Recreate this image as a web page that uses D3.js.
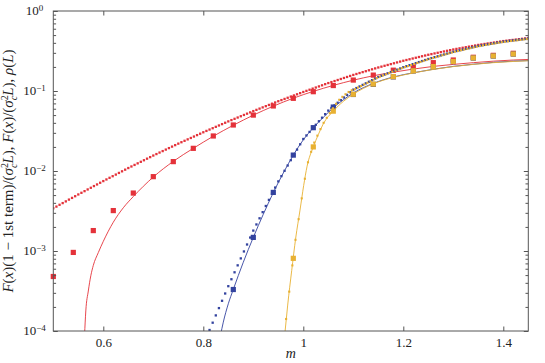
<!DOCTYPE html>
<html lang="en">
<head>
<meta charset="UTF-8">
<title>F(x) against m</title>
<script src="https://d3js.org/d3.v7.min.js"></script>
<style>
  body { margin: 0; background: #fff; }
  svg text { fill: #222; }
</style>
</head>
<body>
<svg id="chart" width="545" height="363"></svg>
<script>
// dotted series: one value every 0.00625 in m
const dotStep = 0.00625;

const redDotStart = 0.5;
const redDots = [
  3.42e-3, 3.59e-3, 3.78e-3, 3.97e-3, 4.17e-3, 4.39e-3, 4.61e-3, 4.84e-3, 5.09e-3,
  5.34e-3, 5.60e-3, 5.88e-3, 6.17e-3, 6.48e-3, 6.79e-3, 7.13e-3, 7.48e-3,
  7.84e-3, 8.22e-3, 8.61e-3, 9.02e-3, 9.46e-3, 9.91e-3, 1.039e-2, 1.089e-2,
  1.139e-2, 1.191e-2, 1.246e-2, 1.303e-2, 1.363e-2, 1.426e-2, 1.491e-2, 1.560e-2,
  1.628e-2, 1.700e-2, 1.774e-2, 1.852e-2, 1.933e-2, 2.018e-2, 2.106e-2, 2.198e-2,
  2.290e-2, 2.385e-2, 2.485e-2, 2.588e-2, 2.696e-2, 2.809e-2, 2.926e-2, 3.048e-2,
  3.170e-2, 3.296e-2, 3.428e-2, 3.565e-2, 3.707e-2, 3.855e-2, 4.009e-2, 4.169e-2,
  4.327e-2, 4.490e-2, 4.660e-2, 4.836e-2, 5.019e-2, 5.208e-2, 5.405e-2, 5.610e-2,
  5.812e-2, 6.021e-2, 6.238e-2, 6.462e-2, 6.695e-2, 6.936e-2, 7.186e-2, 7.447e-2,
  7.699e-2, 7.960e-2, 8.230e-2, 8.509e-2, 8.798e-2, 9.096e-2, 9.404e-2, 9.727e-2,
  0.1004, 0.1037, 0.1071, 0.1105, 0.1141, 0.1178, 0.1217, 0.1256,
  0.1293, 0.1332, 0.1372, 0.1413, 0.1455, 0.1498, 0.1543, 0.1589,
  0.1632, 0.1676, 0.1722, 0.1768, 0.1816, 0.1866, 0.1916, 0.1968,
  0.2016, 0.2066, 0.2116, 0.2168, 0.2221, 0.2276, 0.2331, 0.2388,
  0.2440, 0.2493, 0.2548, 0.2603, 0.2660, 0.2718, 0.2777, 0.2838,
  0.2892, 0.2948, 0.3004, 0.3062, 0.3121, 0.3181, 0.3242, 0.3304,
  0.3359, 0.3414, 0.3470, 0.3528, 0.3586, 0.3645, 0.3705, 0.3767,
  0.3819, 0.3872, 0.3926, 0.3981, 0.4036, 0.4092, 0.4149, 0.4207,
  0.4253, 0.4300, 0.4347, 0.4395, 0.4444, 0.4493, 0.4542, 0.4592
];

const blueDotStart = 0.8125;
const blueDots = [
  1.029e-4, 1.270e-4, 1.567e-4, 1.933e-4, 2.385e-4, 2.943e-4, 3.631e-4,
  4.436e-4, 5.417e-4, 6.616e-4, 8.082e-4, 9.871e-4, 1.206e-3, 1.473e-3, 1.799e-3,
  2.147e-3, 2.563e-3, 3.059e-3, 3.652e-3, 4.359e-3, 5.202e-3, 6.210e-3, 7.413e-3,
  8.634e-3, 1.006e-2, 1.171e-2, 1.365e-2, 1.590e-2, 1.851e-2, 2.157e-2, 2.512e-2,
  2.782e-2, 3.081e-2, 3.413e-2, 3.780e-2, 4.187e-2, 4.637e-2, 5.136e-2, 5.689e-2,
  6.134e-2, 6.614e-2, 7.133e-2, 7.691e-2, 8.293e-2, 8.942e-2, 9.644e-2, 0.1040,
  0.1088, 0.1139, 0.1192, 0.1247, 0.1305, 0.1366, 0.1430, 0.1496,
  0.1550, 0.1605, 0.1662, 0.1722, 0.1783, 0.1847, 0.1913, 0.1982,
  0.2041, 0.2102, 0.2166, 0.2231, 0.2298, 0.2367, 0.2438, 0.2512,
  0.2578, 0.2645, 0.2715, 0.2786, 0.2859, 0.2934, 0.3011, 0.3090,
  0.3156, 0.3223, 0.3291, 0.3361, 0.3432, 0.3505, 0.3579, 0.3656,
  0.3713, 0.3771, 0.3830, 0.3890, 0.3951, 0.4013, 0.4075, 0.4140,
  0.4185, 0.4231, 0.4277, 0.4325, 0.4372, 0.4420, 0.4469, 0.4519
];

const yellowDotStart = 0.965625;
const yellowDots = [
  1.413e-4, 3.105e-4, 6.607e-4, 1.380e-3, 2.500e-3, 4.550e-3, 8.000e-3, 1.285e-2,
  1.738e-2, 2.265e-2, 2.767e-2, 3.342e-2, 4.000e-2, 4.624e-2, 5.297e-2, 6.081e-2,
  6.918e-2, 7.762e-2, 8.453e-2, 9.099e-2, 9.727e-2, 0.1023,
  0.1054, 0.1104, 0.1153, 0.1208, 0.1265, 0.1324, 0.1384, 0.1449,
  0.1510, 0.1563, 0.1618, 0.1675, 0.1738, 0.1799, 0.1862, 0.1928,
  0.1991, 0.2051, 0.2113, 0.2178, 0.2244, 0.2312, 0.2382, 0.2455,
  0.2523, 0.2588, 0.2655, 0.2723, 0.2799, 0.2871, 0.2944, 0.3020,
  0.3097, 0.3162, 0.3228, 0.3296, 0.3365, 0.3436, 0.3508, 0.3581,
  0.3648, 0.3707, 0.3767, 0.3828, 0.3882, 0.3945, 0.4009, 0.4074,
  0.4121, 0.4169, 0.4217, 0.4266, 0.4305, 0.4355, 0.4406, 0.4457
];

// big square markers
const redSquareM = [0.50, 0.54, 0.58, 0.62, 0.66, 0.70, 0.74, 0.78, 0.82, 0.86, 0.90, 0.94,
                    0.98, 1.02, 1.06, 1.10, 1.14, 1.18, 1.22, 1.26, 1.30, 1.34, 1.38, 1.42];
const redSquares = [4.8e-4, 9.6e-4, 1.8e-3, 3.2e-3, 5.3e-3, 8.5e-3, 1.31e-2, 1.92e-2, 2.74e-2, 3.76e-2, 5.0e-2, 6.5e-2,
                    8.1e-2, 9.8e-2, 0.117, 0.137, 0.158, 0.182, 0.201, 0.226, 0.244, 0.264, 0.279, 0.296];
const blueSquareM = [0.86, 0.90, 0.94, 0.98, 1.02, 1.06, 1.10, 1.14, 1.18, 1.22, 1.26, 1.30, 1.34, 1.38, 1.42];
const blueSquares = [3.3e-4, 1.48e-3, 5.4e-3, 1.58e-2, 3.48e-2, 6.3e-2, 0.0905, 0.121, 0.150, 0.178, 0.201, 0.233, 0.258, 0.273, 0.289];
const yellowSquareM = [0.98, 1.02, 1.06, 1.10, 1.14, 1.18, 1.22, 1.26, 1.30, 1.34, 1.38, 1.42];
const yellowSquares = [8.1e-4, 2.0e-2, 5.6e-2, 9.1e-2, 0.122, 0.151, 0.179, 0.202, 0.234, 0.259, 0.274, 0.290];

// continuous curves
const redLineM = [0.5625, 0.565, 0.57, 0.575, 0.58, 0.59, 0.60, 0.62, 0.64, 0.66, 0.70, 0.74, 0.78, 0.82, 0.86,
                  0.90, 0.94, 0.98, 1.02, 1.06, 1.10, 1.14, 1.18, 1.22, 1.26, 1.30, 1.34, 1.38, 1.42, 1.45];
const redLine = [8.91e-5, 1.78e-4, 3.16e-4, 4.90e-4, 6.61e-4, 9.55e-4, 1.32e-3, 2.29e-3, 3.47e-3, 4.79e-3, 8.41e-3,
                 1.32e-2, 1.92e-2, 2.72e-2, 3.73e-2, 4.99e-2, 6.46e-2, 8.13e-2, 9.89e-2, 0.1175, 0.1365, 0.155,
                 0.172, 0.188, 0.203, 0.215, 0.226, 0.236, 0.244, 0.248];
const blueLineM = [0.8345, 0.84, 0.85, 0.86, 0.88, 0.90, 0.92, 0.94, 0.96, 0.98, 1.00, 1.02, 1.04, 1.06, 1.08,
                   1.10, 1.14, 1.18, 1.22, 1.26, 1.30, 1.34, 1.38, 1.42, 1.45];
const blueLine = [8.91e-5, 1.29e-4, 2.19e-4, 3.31e-4, 7.24e-4, 1.48e-3, 2.88e-3, 5.37e-3, 9.44e-3, 1.58e-2, 2.45e-2,
                  3.47e-2, 4.68e-2, 6.17e-2, 7.76e-2, 9.44e-2, 0.1245, 0.1496, 0.169, 0.187, 0.203, 0.216, 0.228, 0.236, 0.240];
const yellowLineM = [0.9628, 0.966, 0.9688, 0.9768, 0.9848, 0.9934, 1.0008, 1.0076, 1.02, 1.03, 1.04, 1.06, 1.08,
                     1.10, 1.14, 1.18, 1.22, 1.26, 1.30, 1.34, 1.38, 1.42, 1.45];
const yellowLine = [8.91e-5, 1.41e-4, 2.11e-4, 5.68e-4, 1.45e-3, 3.24e-3, 6.61e-3, 1.15e-2, 2.00e-2, 2.85e-2, 3.89e-2,
                    5.62e-2, 7.41e-2, 9.12e-2, 0.123, 0.148, 0.168, 0.186, 0.202, 0.215, 0.226, 0.234, 0.239];

const xTicks = [0.6, 0.8, 1, 1.2, 1.4];
const yDecades = [1e-4, 1e-3, 1e-2, 1e-1, 1];
const yDecadeLabels = ["−4", "−3", "−2", "−1", "0"];

const colors = { red: "#e4323a", blue: "#33439f", yellow: "#e8b132" };
const serif = "Liberation Serif";

const svg = d3.select("#chart");
const plotLeft = 53.3, plotRight = 528.3, plotTop = 11, plotBottom = 331;

const x = d3.scaleLinear().domain([0.5, 1.45]).range([plotLeft, plotRight]);
const y = d3.scaleLog().domain([1e-4, 1]).range([plotBottom, plotTop]);

svg.append("defs").append("clipPath").attr("id", "plot")
  .append("rect").attr("x", plotLeft).attr("y", plotTop)
  .attr("width", plotRight - plotLeft).attr("height", plotBottom - plotTop);

const pairs = (ms, vs) => ms.map((m, i) => [m, vs[i]]);
const dotPairs = (start, vs) => vs.map((v, i) => [start + i * dotStep, v]);

const line = d3.line().x(d => x(d[0])).y(d => y(d[1])).curve(d3.curveMonotoneX);

function drawSeries(color, lineData, squares, dots, dotSize) {
  const g = svg.append("g");
  g.append("path")
    .datum(lineData)
    .attr("clip-path", "url(#plot)")
    .attr("fill", "none")
    .attr("stroke", color)
    .attr("stroke-width", 0.9)
    .attr("d", line);

  g.append("g").selectAll("rect")
    .data(squares)
    .enter().append("rect")
    .attr("x", d => x(d[0]) - 2.6)
    .attr("y", d => y(d[1]) - 2.6)
    .attr("width", 5.2)
    .attr("height", 5.2)
    .attr("fill", color);

  g.append("g").attr("clip-path", "url(#plot)").selectAll("rect")
    .data(dots)
    .enter().append("rect")
    .attr("x", d => x(d[0]) - dotSize / 2)
    .attr("y", d => y(d[1]) - dotSize / 2)
    .attr("width", dotSize)
    .attr("height", dotSize)
    .attr("fill", color);
}

drawSeries(colors.red, pairs(redLineM, redLine), pairs(redSquareM, redSquares), dotPairs(redDotStart, redDots), 2.3);
drawSeries(colors.blue, pairs(blueLineM, blueLine), pairs(blueSquareM, blueSquares), dotPairs(blueDotStart, blueDots), 2.3);
drawSeries(colors.yellow, pairs(yellowLineM, yellowLine), pairs(yellowSquareM, yellowSquares), dotPairs(yellowDotStart, yellowDots), 2.1);

// frame and ticks
const axisColor = "#555";
const minorTicks = [];
yDecades.slice(0, -1).forEach(d => { for (let k = 2; k <= 9; k++) minorTicks.push(d * k); });

function styleAxis(g) {
  g.select(".domain").remove();
  g.selectAll(".tick line").attr("stroke", axisColor);
}

svg.append("g").attr("transform", `translate(0,${plotBottom})`)
  .call(d3.axisBottom(x).tickValues(xTicks).tickSize(-4.5).tickPadding(7).tickFormat(d3.format("")))
  .call(styleAxis)
  .call(g => g.attr("font-family", serif).attr("font-size", 13))
  .call(g => g.selectAll("text").attr("fill", "#222"));
svg.append("g").attr("transform", `translate(0,${plotTop})`)
  .call(d3.axisTop(x).tickValues(xTicks).tickSize(-4.5).tickFormat(""))
  .call(styleAxis);

[[d3.axisLeft, plotLeft], [d3.axisRight, plotRight]].forEach(([axisFn, pos]) => {
  svg.append("g").attr("transform", `translate(${pos},0)`)
    .call(axisFn(y).tickValues(yDecades).tickSize(-4.5).tickFormat(""))
    .call(styleAxis);
  svg.append("g").attr("transform", `translate(${pos},0)`)
    .call(axisFn(y).tickValues(minorTicks).tickSize(-2.8).tickFormat(""))
    .call(styleAxis);
});

svg.append("rect")
  .attr("x", plotLeft).attr("y", plotTop)
  .attr("width", plotRight - plotLeft).attr("height", plotBottom - plotTop)
  .attr("fill", "none").attr("stroke", axisColor).attr("stroke-width", 1);

// y tick labels 10^k
yDecades.forEach((d, i) => {
  const t = svg.append("text")
    .attr("x", 34.5).attr("y", y(d) + 4.3)
    .attr("text-anchor", "middle")
    .attr("font-family", serif)
    .attr("font-size", 13);
  t.append("tspan").text("10");
  t.append("tspan").attr("dy", -4.8).attr("font-size", 9).text(yDecadeLabels[i]);
});

// axis titles
svg.append("text")
  .attr("x", (plotLeft + plotRight) / 2).attr("y", 358)
  .attr("text-anchor", "middle")
  .attr("font-family", serif)
  .attr("font-size", 14).attr("font-style", "italic")
  .text("m");

const yTitle = svg.append("text")
  .attr("transform", `translate(13,${(plotTop + plotBottom) / 2}) rotate(-90)`)
  .attr("text-anchor", "middle")
  .attr("font-family", serif)
  .attr("font-size", 15);

function addPart(txt, italic) {
  yTitle.append("tspan").attr("font-style", italic ? "italic" : "normal").text(txt);
}
function addSigma() {
  addPart("σ", true);
  yTitle.append("tspan").attr("dy", -5).attr("font-size", 10).text("2");
  yTitle.append("tspan").attr("dx", -5).attr("dy", 8.5).attr("font-size", 10).attr("font-style", "italic").text("c");
  yTitle.append("tspan").attr("dy", -3.5).attr("font-style", "italic").text("L");
}
addPart("F", true); addPart("(", false); addPart("x", true); addPart(")(1 − 1st term)/(", false);
addSigma();
addPart("), ", false); addPart("F", true); addPart("(", false); addPart("x", true); addPart(")/(", false);
addSigma();
addPart("), ", false); addPart("ρ", true); addPart("(", false); addPart("L", true); addPart(")", false);
</script>
</body>
</html>
